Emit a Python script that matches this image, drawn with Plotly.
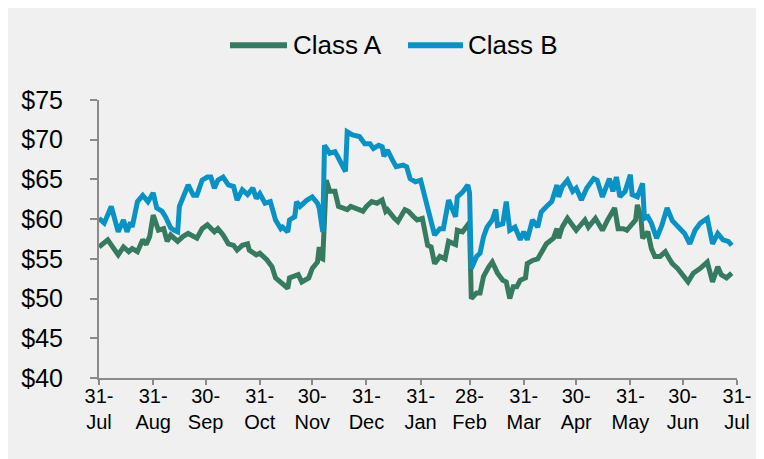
import plotly.graph_objects as go

# Class A (green)
class_a_dates = [
    '2018-07-31', '2018-08-05', '2018-08-11', '2018-08-14', '2018-08-17', '2018-08-19',
    '2018-08-22', '2018-08-25', '2018-08-27', '2018-08-29', '2018-08-31', '2018-09-03',
    '2018-09-06', '2018-09-08', '2018-09-10', '2018-09-14', '2018-09-17', '2018-09-20',
    '2018-09-25', '2018-09-28', '2018-10-01', '2018-10-04', '2018-10-05', '2018-10-07',
    '2018-10-10', '2018-10-13', '2018-10-16', '2018-10-18', '2018-10-21', '2018-10-24',
    '2018-10-25', '2018-10-29', '2018-10-31', '2018-11-04', '2018-11-07', '2018-11-09',
    '2018-11-13', '2018-11-16', '2018-11-17', '2018-11-20', '2018-11-22', '2018-11-24',
    '2018-11-28', '2018-11-30', '2018-12-03', '2018-12-04', '2018-12-05', '2018-12-06',
    '2018-12-08', '2018-12-10', '2018-12-13', '2018-12-15', '2018-12-18', '2018-12-20',
    '2018-12-22', '2018-12-24', '2018-12-27', '2018-12-29', '2018-12-31', '2019-01-03',
    '2019-01-06', '2019-01-09', '2019-01-11', '2019-01-12', '2019-01-16', '2019-01-18',
    '2019-01-22', '2019-01-24', '2019-01-27', '2019-01-29', '2019-02-01', '2019-02-02',
    '2019-02-04', '2019-02-06', '2019-02-08', '2019-02-11', '2019-02-14', '2019-02-16',
    '2019-02-20', '2019-02-21', '2019-02-24', '2019-02-27', '2019-02-28', '2019-03-01',
    '2019-03-04', '2019-03-06', '2019-03-08', '2019-03-11', '2019-03-13', '2019-03-16',
    '2019-03-19', '2019-03-21', '2019-03-23', '2019-03-25', '2019-03-27', '2019-03-29',
    '2019-04-01', '2019-04-02', '2019-04-05', '2019-04-08', '2019-04-11', '2019-04-13',
    '2019-04-17', '2019-04-19', '2019-04-20', '2019-04-22', '2019-04-25', '2019-04-30',
    '2019-05-05', '2019-05-07', '2019-05-11', '2019-05-15', '2019-05-18', '2019-05-22',
    '2019-05-24', '2019-05-27', '2019-05-29', '2019-06-03', '2019-06-04', '2019-06-06',
    '2019-06-07', '2019-06-10', '2019-06-12', '2019-06-14', '2019-06-17', '2019-06-20',
    '2019-06-22', '2019-06-24', '2019-06-27', '2019-07-03', '2019-07-06', '2019-07-10',
    '2019-07-14', '2019-07-17', '2019-07-20', '2019-07-22', '2019-07-25', '2019-07-28',
]
class_a_values = [
    56.5, 57.4, 55.5, 56.5, 55.9, 56.3,
    55.9, 57.4, 56.8, 57.8, 60.5, 58.6,
    58.8, 57.2, 58.0, 57.2, 57.8, 58.2,
    57.6, 58.8, 59.3, 58.6, 58.4, 58.8,
    58.0, 56.9, 56.7, 56.1, 56.7, 56.9,
    56.1, 55.5, 55.7, 54.9, 54.0, 52.6,
    51.9, 51.3, 52.6, 52.8, 53.0, 52.1,
    52.6, 53.8, 54.6, 56.5, 55.1, 55.0,
    64.9, 63.5, 63.5, 61.6, 61.4, 61.2,
    61.6, 61.4, 61.2, 61.0, 61.6, 62.2,
    62.0, 62.4, 61.0, 61.2, 60.1, 59.7,
    61.2, 61.0, 60.3, 59.9, 60.1, 59.0,
    56.7, 56.5, 54.4, 55.3, 55.0, 57.2,
    56.8, 58.6, 58.4, 59.3, 59.0, 50.0,
    50.7, 50.7, 52.8, 54.0, 54.6, 53.2,
    52.3, 52.1, 50.0, 51.5, 51.5, 52.3,
    52.6, 54.4, 54.8, 55.0, 56.3, 56.9,
    57.6, 58.8, 57.6, 59.0, 60.1, 58.6,
    59.9, 59.0, 60.1, 58.6, 59.9, 61.4,
    58.8, 58.8, 58.6, 59.9, 61.8, 60.3,
    57.6, 58.4, 56.3, 55.3, 55.3, 55.9,
    55.1, 54.4, 53.8, 52.1, 53.2, 53.8,
    54.6, 52.1, 54.0, 53.0, 52.6, 53.2,
]

# Class B (blue)
class_b_dates = [
    '2018-07-31', '2018-08-03', '2018-08-07', '2018-08-11', '2018-08-14', '2018-08-16',
    '2018-08-18', '2018-08-19', '2018-08-22', '2018-08-25', '2018-08-28', '2018-08-31',
    '2018-09-02', '2018-09-05', '2018-09-07', '2018-09-10', '2018-09-12', '2018-09-14',
    '2018-09-15', '2018-09-18', '2018-09-20', '2018-09-23', '2018-09-25', '2018-09-28',
    '2018-10-01', '2018-10-03', '2018-10-05', '2018-10-07', '2018-10-10', '2018-10-13',
    '2018-10-16', '2018-10-18', '2018-10-21', '2018-10-24', '2018-10-27', '2018-10-29',
    '2018-10-31', '2018-11-03', '2018-11-06', '2018-11-09', '2018-11-12', '2018-11-13',
    '2018-11-16', '2018-11-17', '2018-11-20', '2018-11-21', '2018-11-23', '2018-11-27',
    '2018-11-30', '2018-12-03', '2018-12-04', '2018-12-06', '2018-12-07', '2018-12-10',
    '2018-12-13', '2018-12-15', '2018-12-19', '2018-12-20', '2018-12-23', '2018-12-27',
    '2018-12-30', '2019-01-02', '2019-01-04', '2019-01-07', '2019-01-09', '2019-01-10',
    '2019-01-12', '2019-01-15', '2019-01-17', '2019-01-21', '2019-01-23', '2019-01-25',
    '2019-01-28', '2019-01-31', '2019-02-01', '2019-02-04', '2019-02-07', '2019-02-08',
    '2019-02-11', '2019-02-13', '2019-02-16', '2019-02-20', '2019-02-21', '2019-02-24',
    '2019-02-27', '2019-02-28', '2019-03-01', '2019-03-04', '2019-03-06', '2019-03-08',
    '2019-03-10', '2019-03-13', '2019-03-15', '2019-03-16', '2019-03-19', '2019-03-21',
    '2019-03-23', '2019-03-26', '2019-03-29', '2019-03-31', '2019-04-02', '2019-04-05',
    '2019-04-08', '2019-04-10', '2019-04-13', '2019-04-16', '2019-04-19', '2019-04-20',
    '2019-04-22', '2019-04-25', '2019-04-28', '2019-04-30', '2019-05-03', '2019-05-06',
    '2019-05-10', '2019-05-12', '2019-05-15', '2019-05-18', '2019-05-19', '2019-05-21',
    '2019-05-23', '2019-05-25', '2019-05-28', '2019-05-31', '2019-06-01', '2019-06-04',
    '2019-06-07', '2019-06-08', '2019-06-10', '2019-06-12', '2019-06-15', '2019-06-18',
    '2019-06-21', '2019-06-24', '2019-06-26', '2019-07-01', '2019-07-04', '2019-07-07',
    '2019-07-10', '2019-07-14', '2019-07-17', '2019-07-20', '2019-07-23', '2019-07-26',
    '2019-07-28',
]
class_b_values = [
    60.1, 59.5, 61.6, 58.4, 59.9, 58.4,
    59.6, 59.0, 62.2, 63.0, 62.2, 63.3,
    61.4, 61.0, 60.3, 58.9, 58.6, 58.4,
    61.6, 63.5, 64.3, 63.0, 63.0, 64.9,
    65.3, 65.3, 63.9, 64.9, 65.3, 64.3,
    64.1, 62.4, 63.7, 63.1, 63.9, 62.6,
    63.2, 62.0, 62.2, 59.9, 58.8, 59.0,
    58.4, 59.9, 60.3, 62.2, 61.6, 62.4,
    62.8, 62.0, 61.4, 58.4, 69.3, 68.3,
    68.5, 67.7, 66.0, 71.0, 70.6, 70.4,
    69.5, 69.5, 68.9, 69.3, 69.1, 67.9,
    68.7, 67.4, 66.6, 66.8, 66.6, 65.1,
    64.7, 64.9, 64.1, 61.4, 59.0, 58.0,
    58.8, 58.8, 62.4, 60.3, 62.8, 63.4,
    64.3, 63.3, 53.8, 55.3, 55.7, 57.8,
    59.0, 59.9, 61.2, 59.2, 59.4, 62.2,
    58.6, 59.0, 57.4, 58.4, 57.4, 59.9,
    59.0, 60.9, 61.6, 62.2, 64.3, 62.8,
    64.1, 64.9, 63.5, 63.9, 62.4, 63.9,
    65.1, 64.9, 62.8, 64.5, 65.1, 63.5,
    65.3, 62.8, 63.5, 65.6, 63.1, 62.8,
    64.5, 60.1, 60.3, 59.5, 57.6, 59.2,
    61.4, 59.8, 59.4, 58.2, 56.9, 58.6,
    59.5, 60.1, 56.9, 58.2, 57.4, 57.2,
    56.7,
]

tick_dates = [
    '2018-07-31', '2018-08-31', '2018-09-30', '2018-10-31', '2018-11-30', '2018-12-31',
    '2019-01-31', '2019-02-28', '2019-03-31', '2019-04-30', '2019-05-31', '2019-06-30',
    '2019-07-31',
]
tick_labels = [
    '31-<br>Jul', '31-<br>Aug', '30-<br>Sep', '31-<br>Oct', '30-<br>Nov', '31-<br>Dec',
    '31-<br>Jan', '28-<br>Feb', '31-<br>Mar', '30-<br>Apr', '31-<br>May', '30-<br>Jun',
    '31-<br>Jul',
]

series_names = ['Class A', 'Class B']
series_colors = ['#367A5F', '#0A92C4']

FONT = 'Arial, Liberation Sans, sans-serif'
BG = '#F0F0F0'
AXIS = '#8A8A8A'

fig = go.Figure()
fig.add_trace(go.Scatter(
    x=class_a_dates, y=class_a_values, name=series_names[0], mode='lines',
    line=dict(color=series_colors[0], width=5), showlegend=False,
))
fig.add_trace(go.Scatter(
    x=class_b_dates, y=class_b_values, name=series_names[1], mode='lines',
    line=dict(color=series_colors[1], width=5), showlegend=False,
))

# legend drawn by hand so the sample lines are as long as in the original
shapes = []
annotations = []
legend_x = [(0.2053, 0.2947, 0.3009), (0.4843, 0.5705, 0.5752)]
for (x0, x1, xt), name, color in zip(legend_x, series_names, series_colors):
    shapes.append(dict(type='line', xref='paper', yref='paper', x0=x0, x1=x1,
                       y0=1.197, y1=1.197, line=dict(color=color, width=6)))
    annotations.append(dict(text=name, xref='paper', yref='paper', x=xt, y=1.197,
                            xanchor='left', yanchor='middle', showarrow=False,
                            font=dict(size=26, color='black', family=FONT)))

fig.update_layout(
    width=764, height=459,
    margin=dict(l=91, r=35, t=92, b=89),
    paper_bgcolor=BG, plot_bgcolor=BG,
    font=dict(family=FONT, color='black'),
    shapes=shapes, annotations=annotations,
    showlegend=False,
)
fig.update_xaxes(
    type='date', range=['2018-07-31', '2019-07-31'],
    tickvals=tick_dates, ticktext=tick_labels,
    tickfont=dict(size=20), showgrid=False, zeroline=False,
    showline=True, linecolor=AXIS, linewidth=2,
    ticks='outside', ticklen=5, tickcolor=AXIS, tickwidth=2,
    ticklabelstandoff=-6,
)
fig.update_yaxes(
    range=[40, 75], dtick=5, tickprefix='$',
    tickfont=dict(size=25), showgrid=False, zeroline=False,
    showline=True, linecolor=AXIS, linewidth=2,
    ticks='outside', ticklen=7, tickcolor=AXIS, tickwidth=2,
    ticklabelstandoff=22,
)

fig.write_html("out.html")
